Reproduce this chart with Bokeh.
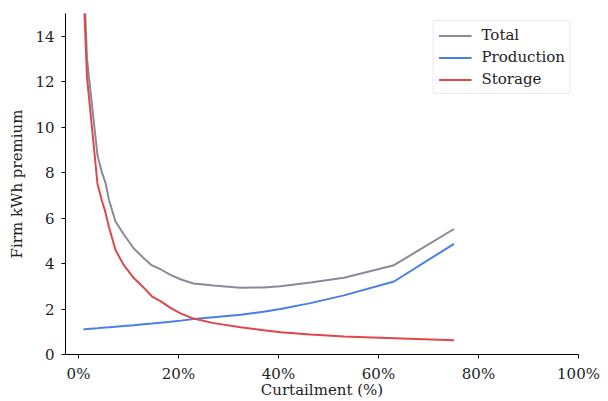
from bokeh.plotting import figure
from bokeh.models import Range1d, FixedTicker, NumeralTickFormatter, Legend, LegendItem
from bokeh.embed import file_html
from bokeh.resources import INLINE

curtailment = [0.010, 0.017, 0.038, 0.047, 0.054, 0.061, 0.074, 0.090, 0.111, 0.130,
               0.147, 0.164, 0.184, 0.205, 0.230, 0.270, 0.324, 0.370, 0.404, 0.464,
               0.531, 0.631, 0.751]
total = [17.1, 13.0, 8.75, 8.0, 7.55, 6.8, 5.85, 5.3, 4.65, 4.25, 3.92, 3.75, 3.5, 3.3,
         3.12, 3.03, 2.94, 2.95, 3.0, 3.17, 3.38, 3.93, 5.52]
production = [1.10, 1.12, 1.16, 1.18, 1.19, 1.20, 1.22, 1.25, 1.29, 1.33, 1.36, 1.40,
              1.44, 1.49, 1.56, 1.64, 1.75, 1.88, 2.0, 2.26, 2.60, 3.21, 4.87]
storage = [16.0, 12.2, 7.5, 6.75, 6.25, 5.6, 4.6, 3.95, 3.35, 2.95, 2.55, 2.35, 2.05,
           1.8, 1.58, 1.38, 1.2, 1.07, 0.98, 0.88, 0.79, 0.72, 0.63]
x_ticks = [0, 0.2, 0.4, 0.6, 0.8, 1.0]
y_ticks = [0, 2, 4, 6, 8, 10, 12, 14]

FONT = "DejaVu Serif"

p = figure(width=608, height=401, output_backend="svg", toolbar_location=None,
           x_range=Range1d(-0.026, 1.0), y_range=Range1d(0, 15),
           min_border_left=65, min_border_right=30, min_border_top=13, min_border_bottom=47)
p.outline_line_color = None
p.xgrid.visible = False
p.ygrid.visible = False

r1 = p.line(curtailment, total, line_color="#878a99", line_width=2)
r2 = p.line(curtailment, production, line_color="#4a7fe6", line_width=2)
r3 = p.line(curtailment, storage, line_color="#e0474b", line_width=2)

for ax in (p.xaxis[0], p.yaxis[0]):
    ax.major_label_text_font = FONT
    ax.major_label_text_font_size = "15px"
    ax.major_label_text_color = "#222222"
    ax.axis_label_text_font = FONT
    ax.axis_label_text_font_size = "15px"
    ax.axis_label_text_font_style = "normal"
    ax.axis_label_text_color = "#222222"
    ax.minor_tick_line_color = None
    ax.major_tick_out = 4
    ax.major_tick_in = 0
    ax.axis_line_color = "black"
    ax.major_tick_line_color = "black"

p.xaxis.ticker = FixedTicker(ticks=x_ticks)
p.xaxis.formatter = NumeralTickFormatter(format="0%")
p.xaxis.axis_label = "Curtailment (%)"
p.xaxis.major_label_standoff = 6
p.xaxis.axis_label_standoff = -5
p.yaxis.ticker = FixedTicker(ticks=y_ticks)
p.yaxis.axis_label = "Firm kWh premium"
p.yaxis.major_label_standoff = 7
p.yaxis.axis_label_standoff = 6

legend = Legend(items=[LegendItem(label="Total", renderers=[r1]),
                       LegendItem(label="Production", renderers=[r2]),
                       LegendItem(label="Storage", renderers=[r3])],
                location="top_right")
legend.label_text_font = FONT
legend.label_text_font_size = "15px"
legend.label_text_color = "#222222"
legend.glyph_width = 33
legend.glyph_height = 17
legend.label_height = 17
legend.label_standoff = 10
legend.spacing = 4
legend.padding = 5
legend.margin = 7
legend.border_line_color = "#d6d6d6"
legend.border_line_width = 1
if "border_radius" in legend.properties():
    legend.border_radius = 3
p.add_layout(legend)

open("out.html", "w").write(file_html(p, INLINE))
